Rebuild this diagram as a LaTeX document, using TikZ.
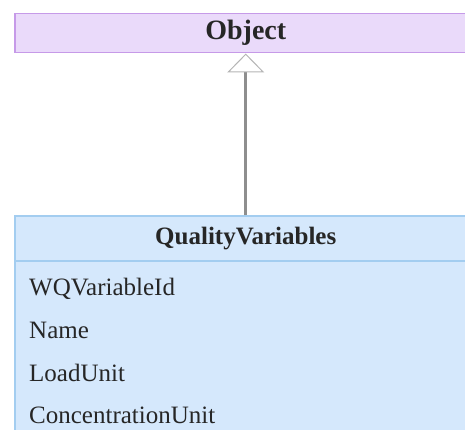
\documentclass[tikz,border=0pt]{standalone}
\usepackage{fontspec}
\setmainfont{Liberation Serif}
\usepackage{xcolor}
\usetikzlibrary{arrows.meta,positioning}

\definecolor{objfill}{HTML}{EADAFA}
\definecolor{objline}{HTML}{C69AE8}
\definecolor{clsfill}{HTML}{D5E8FC}
\definecolor{clsline}{HTML}{A3CDF0}
\definecolor{inhline}{HTML}{8E8E8E}
\definecolor{tipline}{HTML}{B4B4B4}

\begin{document}
\begin{tikzpicture}[x=1pt, y=-1pt,
    every node/.style={inner sep=0pt, text=black!85},
    headfont/.style={font=\fontsize{25}{30}\selectfont\bfseries},
    objbox/.style={draw=objline, fill=objfill, line width=1.5pt,
      font=\fontsize{28}{32}\selectfont\bfseries,
      minimum width=462pt, minimum height=39pt, anchor=north west},
    clshead/.style={draw=clsline, fill=clsfill, line width=1.5pt, headfont,
      minimum width=462pt, minimum height=45pt, anchor=north west},
    clsbody/.style={draw=clsline, fill=clsfill, line width=1.5pt,
      minimum width=462pt, minimum height=200pt, anchor=north west},
    attr/.style={font=\fontsize{25}{29}\selectfont, anchor=west}]
  \useasboundingbox (0,0) rectangle (465,430);
  \clip (0,0) rectangle (465,430);
  \node[objbox]  (object) at (14,13) {Object};
  \node[clsbody] (qvbody) at (14,260) {};
  \node[clshead] (qvhead) at (14,215) {QualityVariables};
  % attributes
  \node[attr] (wqid)  at (29,289) {WQVariableId};
  \node[attr] (name)  at (29,330) {Name};
  \node[attr] (load)  at (29,373) {LoadUnit};
  \node[attr] (conc)  at (29,415) {ConcentrationUnit};
  % inheritance
  \draw[inhline, line width=3pt,
    -{Triangle[length=19pt, width=37pt, line width=1pt, fill=white, color=tipline]}]
    (qvhead.north) -- (object.south);
\end{tikzpicture}
\end{document}
